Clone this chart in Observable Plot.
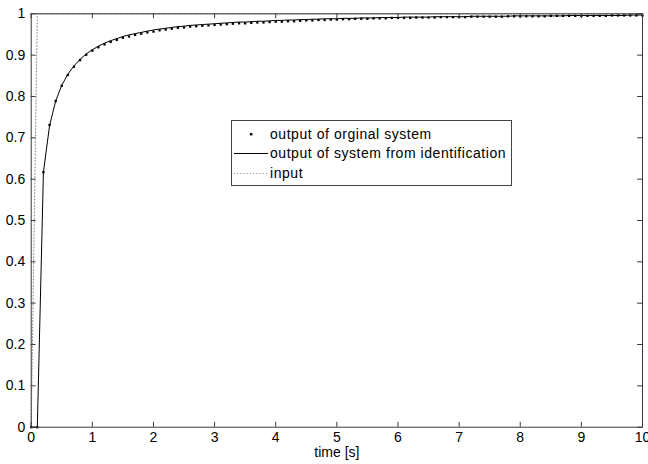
<!DOCTYPE html>
<html>
<head>
<meta charset="utf-8">
<script src="https://cdn.jsdelivr.net/npm/d3@7"></script>
<script src="https://cdn.jsdelivr.net/npm/@observablehq/plot@0.6"></script>
<style>
  html, body { margin: 0; padding: 0; background: #fff; }
  #wrap { position: relative; width: 648px; height: 464px; font-family: "Liberation Sans", Arial, sans-serif; }
  #legend { position: absolute; left: 231px; top: 120px; width: 281px; height: 66px; border: 1px solid #444; background: #fff; box-sizing: border-box; font-size: 14px; letter-spacing: 0.55px; color: #000; }
  .row { position: absolute; left: 0; height: 18px; width: 100%; }
  .row span { position: absolute; left: 38px; top: 0; line-height: 18px; white-space: nowrap; }
  .row svg { position: absolute; left: 0; top: 0; }
</style>
</head>
<body>
<div id="wrap"></div>
<script>
// sampling times (s), step 0.1 from 0 to 10
const time = d3.range(0, 101).map(i => +(i / 10).toFixed(1));

// output of original system (dots)
const originalOutput = [
  0, 0, 0.617, 0.731, 0.789, 0.826, 0.852, 0.872, 0.888, 0.901, 0.911,
  0.919, 0.926, 0.932, 0.937, 0.942, 0.945, 0.949, 0.952, 0.955, 0.957,
  0.960, 0.962, 0.964, 0.966, 0.967, 0.969, 0.970, 0.971, 0.972, 0.973,
  0.974, 0.975, 0.976, 0.977, 0.977, 0.978, 0.979, 0.979, 0.980, 0.981,
  0.981, 0.982, 0.982, 0.983, 0.984, 0.984, 0.985, 0.985, 0.986, 0.986,
  0.987, 0.987, 0.988, 0.988, 0.988, 0.989, 0.989, 0.989, 0.990, 0.990,
  0.990, 0.990, 0.991, 0.991, 0.991, 0.991, 0.992, 0.992, 0.992, 0.992,
  0.992, 0.993, 0.993, 0.993, 0.993, 0.993, 0.993, 0.994, 0.994, 0.994,
  0.994, 0.994, 0.994, 0.994, 0.995, 0.995, 0.995, 0.995, 0.995, 0.995,
  0.995, 0.995, 0.995, 0.995, 0.996, 0.996, 0.996, 0.996, 0.996, 0.996
];

// output of system from identification (solid line)
const identifiedOutput = [
  0, 0, 0.617, 0.729, 0.789, 0.827, 0.854, 0.874, 0.890, 0.903, 0.913,
  0.922, 0.929, 0.935, 0.940, 0.945, 0.949, 0.952, 0.955, 0.958, 0.961,
  0.963, 0.965, 0.967, 0.969, 0.970, 0.972, 0.973, 0.974, 0.975, 0.976,
  0.977, 0.978, 0.979, 0.980, 0.980, 0.981, 0.982, 0.982, 0.983, 0.984,
  0.984, 0.985, 0.985, 0.986, 0.986, 0.987, 0.987, 0.988, 0.988, 0.988,
  0.989, 0.989, 0.989, 0.990, 0.990, 0.990, 0.991, 0.991, 0.991, 0.991,
  0.992, 0.992, 0.992, 0.992, 0.992, 0.993, 0.993, 0.993, 0.993, 0.993,
  0.993, 0.994, 0.994, 0.994, 0.994, 0.994, 0.994, 0.994, 0.995, 0.995,
  0.995, 0.995, 0.995, 0.995, 0.995, 0.995, 0.995, 0.996, 0.996, 0.996,
  0.996, 0.996, 0.996, 0.996, 0.996, 0.996, 0.996, 0.997, 0.997, 0.997
];

// input (step)
const inputTime = [0, 0.1, 10];
const inputValue = [0, 1, 1];

const xTicks = [0, 1, 2, 3, 4, 5, 6, 7, 8, 9, 10];
const yTicks = [0, 0.1, 0.2, 0.3, 0.4, 0.5, 0.6, 0.7, 0.8, 0.9, 1];
const xLabel = "time [s]";
const legendLabels = ["output of orginal system", "output of system from identification", "input"];

const sysData = time.map((t, i) => ({t, orig: originalOutput[i], ident: identifiedOutput[i]}));
const inData = inputTime.map((t, i) => ({t, u: inputValue[i]}));

const axisColor = "#3a3a3a";
const fmt = d => String(d);

const chart = Plot.plot({
  width: 648,
  height: 464,
  marginLeft: 30.7,
  marginRight: 6,
  marginTop: 13.3,
  marginBottom: 37.3,
  style: {fontFamily: "Liberation Sans, Arial, sans-serif", fontSize: "14px", color: "#000", background: "#fff"},
  x: {domain: [0, 10]},
  y: {domain: [0, 1]},
  marks: [
    Plot.line(inData, {x: "t", y: "u", stroke: "#888", strokeWidth: 1, strokeDasharray: "1,2.2"}),
    Plot.line(sysData, {x: "t", y: "ident", stroke: "#000", strokeWidth: 1}),
    Plot.dot(sysData, {x: "t", y: "orig", symbol: "square", r: 1.3, fill: "#000", stroke: "none"}),
    // inward ticks on all four sides
    Plot.ruleX(xTicks, {x: d => d, y1: 0, y2: 0.012, stroke: axisColor}),
    Plot.ruleX(xTicks, {x: d => d, y1: 0.988, y2: 1, stroke: axisColor}),
    Plot.ruleY(yTicks, {y: d => d, x1: 0, x2: 0.08, stroke: axisColor}),
    Plot.ruleY(yTicks, {y: d => d, x1: 9.92, x2: 10, stroke: axisColor}),
    Plot.axisX(xTicks, {tickSize: 0, tickPadding: 5, tickFormat: fmt, label: null, fill: "#000"}),
    Plot.axisY(yTicks, {tickSize: 0, tickPadding: 6, tickFormat: fmt, label: null, fill: "#000"}),
    Plot.text([xLabel], {frameAnchor: "bottom", dy: 25.5, lineAnchor: "middle", fontSize: 14, fill: "#000"}),
    Plot.frame({stroke: axisColor, strokeWidth: 1})
  ]
});

const wrap = document.getElementById("wrap");
wrap.appendChild(chart);

// legend overlay
const legend = document.createElement("div");
legend.id = "legend";
const rowTops = [3.5, 23, 42.5];
legendLabels.forEach((lab, i) => {
  const row = document.createElement("div");
  row.className = "row";
  row.style.top = rowTops[i] + "px";
  let sample = "";
  if (i === 0) sample = '<svg width="36" height="18"><rect x="18" y="8" width="2.4" height="2.4" fill="#000"/></svg>';
  if (i === 1) sample = '<svg width="36" height="18"><line x1="2" x2="36" y1="9.5" y2="9.5" stroke="#000" stroke-width="1"/></svg>';
  if (i === 2) sample = '<svg width="36" height="18"><line x1="2" x2="36" y1="9.5" y2="9.5" stroke="#888" stroke-width="1" stroke-dasharray="1,2.2"/></svg>';
  row.innerHTML = sample + '<span>' + lab + '</span>';
  legend.appendChild(row);
});
wrap.appendChild(legend);
</script>
</body>
</html>
